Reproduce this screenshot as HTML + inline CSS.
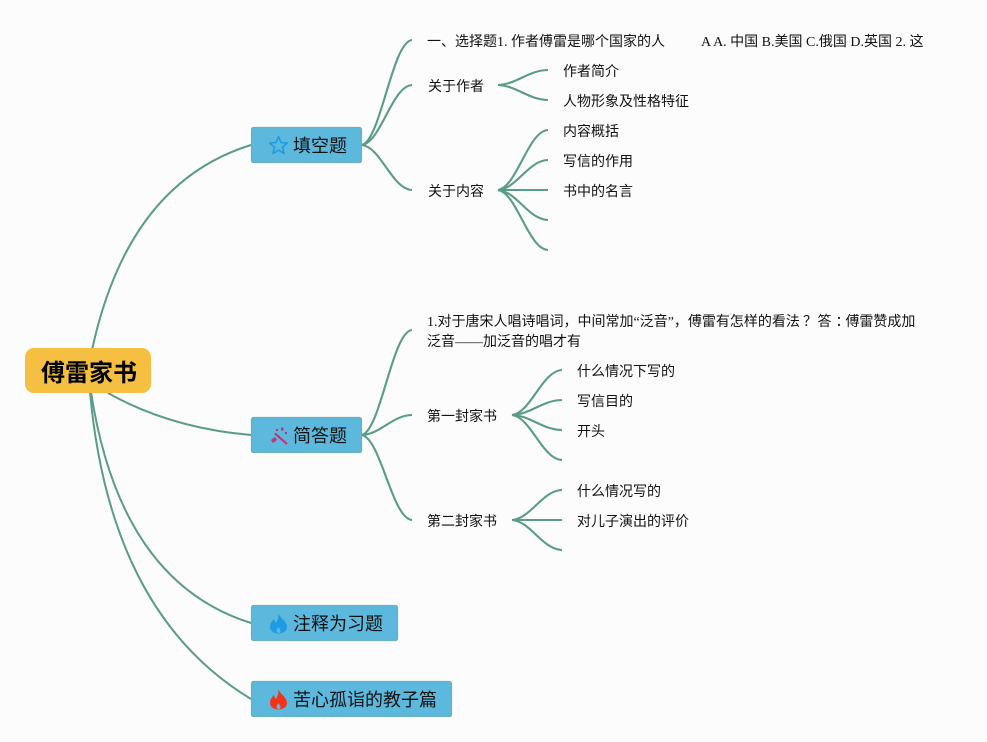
<!DOCTYPE html>
<html lang="zh"><head><meta charset="utf-8"><title>傅雷家书</title>
<style>
html,body{margin:0;padding:0;background:#fcfcfd}
svg{display:block}
text{font-family:"Liberation Serif","WenQuanYi Zen Hei","Noto Sans CJK SC",serif;font-size:14px;fill:#111}
.l{fill:none;stroke:#5a9b89;stroke-width:2.1}
.r{fill:none;stroke:#5a9b89;stroke-width:2}
.n{fill:#5cb8dc;stroke:#6db0b6;stroke-width:1.2}
.h{font-size:18px;font-family:"WenQuanYi Zen Hei","Noto Sans CJK SC",sans-serif}
</style></head><body>
<svg width="987" height="742" viewBox="0 0 987 742" xmlns="http://www.w3.org/2000/svg">
<rect width="987" height="742" fill="#fcfcfd"/>
<path class="r" d="M92,350Q128,183 251,145"/>
<path class="r" d="M108,393Q170,428 251,435"/>
<path class="r" d="M91,392Q120,582 251,623"/>
<path class="r" d="M90,392Q110,614 251,699"/>

<path class="l" d="M362,145C381,139.750 392,42.100 412,40"/>
<path class="l" d="M362,145C381,142 392,86.200 412,85"/>
<path class="l" d="M362,145C381,147.250 392,189.100 412,190"/>
<path class="l" d="M498,85C517,84.250 528,70.300 548,70"/>
<path class="l" d="M498,85C517,85.750 528,99.700 548,100"/>
<path class="l" d="M498,190C517,187 528,131.200 548,130"/>
<path class="l" d="M498,190C517,188.500 528,160.600 548,160"/>
<path class="l" d="M498,190H548"/>
<path class="l" d="M498,190C517,191.500 528,219.400 548,220"/>
<path class="l" d="M498,190C517,193 528,248.800 548,250"/>

<path class="l" d="M362,435C381,429.750 392,332.100 412,330"/>
<path class="l" d="M362,435C381,434 392,415.400 412,415"/>
<path class="l" d="M362,435C381,439.250 392,518.300 412,520"/>
<path class="l" d="M512,415C531,412.750 542,370.900 562,370"/>
<path class="l" d="M512,415C531,414.250 542,400.300 562,400"/>
<path class="l" d="M512,415C531,415.750 542,429.700 562,430"/>
<path class="l" d="M512,415C531,417.250 542,459.100 562,460"/>
<path class="l" d="M512,520C531,518.500 542,490.600 562,490"/>
<path class="l" d="M512,520H562"/>
<path class="l" d="M512,520C531,521.500 542,549.400 562,550"/>

<rect x="25" y="348" width="126" height="45" rx="9" fill="#f5bf41"/>
<text x="41" y="381" style="font-size:24px;font-weight:bold;font-family:'WenQuanYi Zen Hei','Noto Sans CJK SC',sans-serif;fill:#000">傅雷家书</text>

<rect class="n" x="251.500" y="127.500" width="110" height="35" rx="2"/>
<path d="M278.500,136.500L281,142.500 287.300,143 282.500,147.200 284,153.500 278.500,150.100 273,153.500 274.500,147.200 269.700,143 276,142.500Z" fill="none" stroke="#1e9be0" stroke-width="1.600" stroke-linejoin="round"/>
<text class="h" x="293" y="152">填空题</text>

<rect class="n" x="251.500" y="417.500" width="110" height="35" rx="2"/>
<path d="M275,433.500L287,444" stroke="#d4286e" stroke-width="2" fill="none"/>
<path d="M271,440L275,437 277,440 273,443Z M281,427.500h2.500v3h-2.500Z M285,432h2v2h-2Z M276,429h2v2h-2Z M278,436h2v2h-2Z" fill="#d4286e"/>
<text class="h" x="293" y="442">简答题</text>

<rect class="n" x="251.500" y="605.500" width="146" height="35" rx="2"/>
<path fill-rule="evenodd" d="M278.500,613C279.500,618 287,621 287,627C287,631 283,633.500 278.500,633.500C274,633.500 270,631 270,627C270,623.500 272,621 274,619C274.500,621 275,622 276,623C278,620 278.500,617 278.500,613ZM278.500,627C277.500,628.500 276.500,630 276.500,631C276.500,632.500 277.500,633 278.500,633C280,633 280.500,632.500 280.500,631C280.500,630 279.500,628.500 278.500,627Z" fill="#1f9be2"/>
<text class="h" x="293" y="630">注释为习题</text>

<rect class="n" x="251.500" y="681.500" width="200" height="35" rx="2"/>
<path fill-rule="evenodd" d="M278.500,689C279.500,694 287,697 287,703C287,707 283,709.500 278.500,709.500C274,709.500 270,707 270,703C270,699.500 272,697 274,695C274.500,697 275,698 276,699C278,696 278.500,693 278.500,689ZM278.500,703C277.500,704.500 276.500,706 276.500,707C276.500,708.500 277.500,709 278.500,709C280,709 280.500,708.500 280.500,707C280.500,706 279.500,704.500 278.500,703Z" fill="#f8311a"/>
<text class="h" x="293" y="706">苦心孤诣的教子篇</text>

<text x="427" y="46">一、选择题1. 作者傅雷是哪个国家的人</text>
<text x="701" y="46">A A. 中国 B.美国 C.俄国 D.英国 2. 这</text>
<text x="428" y="91">关于作者</text>
<text x="563" y="76">作者简介</text>
<text x="563" y="106">人物形象及性格特征</text>
<text x="428" y="196">关于内容</text>
<text x="563" y="136">内容概括</text>
<text x="563" y="166">写信的作用</text>
<text x="563" y="196">书中的名言</text>
<text x="427" y="326">1.对于唐宋人唱诗唱词，中间常加“泛音”，傅雷有怎样的看法<tspan dx="3">？</tspan><tspan dx="-3"> 答</tspan><tspan dx="4">：</tspan><tspan dx="-4">傅雷赞成加</tspan></text>
<text x="427" y="346">泛音——加泛音的唱才有</text>
<text x="427" y="421">第一封家书</text>
<text x="577" y="376">什么情况下写的</text>
<text x="577" y="406">写信目的</text>
<text x="577" y="436">开头</text>
<text x="427" y="526">第二封家书</text>
<text x="577" y="496">什么情况写的</text>
<text x="577" y="526">对儿子演出的评价</text>
</svg>
</body></html>
